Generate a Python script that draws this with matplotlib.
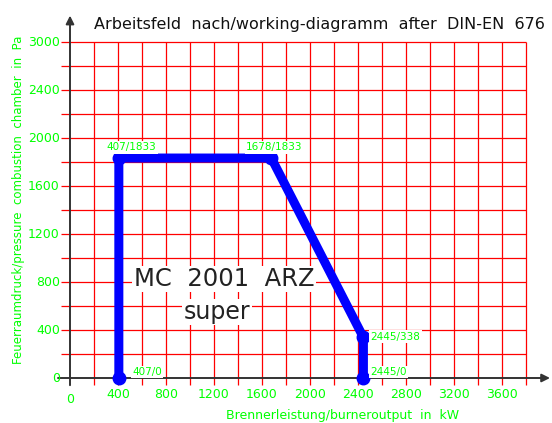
import numpy as np
import matplotlib.pyplot as plt

# operating field of the burner (kW, Pa)
output_kw = [407, 407, 1678, 2445, 2445]
pressure_pa = [0, 1833, 1833, 338, 0]
point_labels = ["407/0", "407/1833", "1678/1833", "2445/338", "2445/0"]

x_ticks = [0, 400, 800, 1200, 1600, 2000, 2400, 2800, 3200, 3600]
y_ticks = [0, 400, 800, 1200, 1600, 2000, 2400, 2800]
y_tick_labels = ["0", "400", "800", "1200", "1600", "2000", "2400", "3000"]

GREEN = "#00ff00"
RED = "#ff0000"
BLUE = "#0000ff"

fig = plt.figure(figsize=(5.52, 4.23), dpi=100)
ax = fig.add_axes([0, 0, 1, 1])
# 0.12 px per unit on both axes, origin at (70, 378) px from top-left
ax.set_xlim(-70 / 0.12, (552 - 70) / 0.12)
ax.set_ylim(-45 / 0.12, (423 - 45) / 0.12)
ax.axis("off")

# red grid
grid_x = np.arange(200, 3801, 200)
grid_y = np.arange(200, 2801, 200)
ax.vlines(grid_x, -60, 2800, color=RED, lw=0.9, zorder=1)
ax.hlines(grid_y, -75, 3800, color=RED, lw=0.9, zorder=1)

# axes with arrows
ax.annotate("", xy=(4000, 0), xytext=(-100, 0),
            arrowprops=dict(arrowstyle="-|>", color="#333333", lw=1.4,
                            mutation_scale=12, shrinkA=0, shrinkB=0), zorder=2)
ax.annotate("", xy=(0, 3020), xytext=(0, -60),
            arrowprops=dict(arrowstyle="-|>", color="#333333", lw=1.4,
                            mutation_scale=12, shrinkA=0, shrinkB=0), zorder=2)

# tick labels
for x in x_ticks:
    dy = -175 if x == 0 else -135
    ax.text(x, dy, str(x), color=GREEN, fontsize=9, ha="center", va="center")
for y, lab in zip(y_ticks, y_tick_labels):
    ax.text(-85, y, lab, color=GREEN, fontsize=9, ha="right", va="center")

# model name
ax.text(1283, 825, "MC  2001  ARZ", fontsize=17.5, color="#222222",
        ha="center", va="center", zorder=3,
        bbox=dict(facecolor="white", edgecolor="none", pad=1))
ax.text(1225, 550, "super", fontsize=17, color="#222222",
        ha="center", va="center", zorder=3,
        bbox=dict(facecolor="white", edgecolor="none", pad=1))

# working field
ax.plot(output_kw, pressure_pa, color=BLUE, lw=6.5, solid_capstyle="round",
        solid_joinstyle="round", marker="o", markersize=9, zorder=4)

offsets = {
    "407/0": (110, 50),
    "407/1833": (-100, 90),
    "1678/1833": (-210, 90),
    "2445/338": (60, 5),
    "2445/0": (60, 50),
}
for x, y, lab in zip(output_kw, pressure_pa, point_labels):
    dx, dy = offsets[lab]
    ax.text(x + dx, y + dy, lab, color=GREEN, fontsize=7.5, ha="left",
            va="center", zorder=5,
            bbox=dict(facecolor="white", edgecolor="none", pad=1))

# titles
ax.text(2075, 2950, "Arbeitsfeld  nach/working-diagramm  after  DIN-EN  676",
        fontsize=11.5, color="#111111", ha="center", va="center")
ax.text(-433, 1483, "Feuerraumdruck/pressure  combustion  chamber  in  Pa",
        fontsize=8.5, color=GREEN, rotation=90, ha="center", va="center")
ax.text(2275, -310, "Brennerleistung/burneroutput  in  kW",
        fontsize=9, color=GREEN, ha="center", va="center")

fig.savefig("out.png", dpi=100)
